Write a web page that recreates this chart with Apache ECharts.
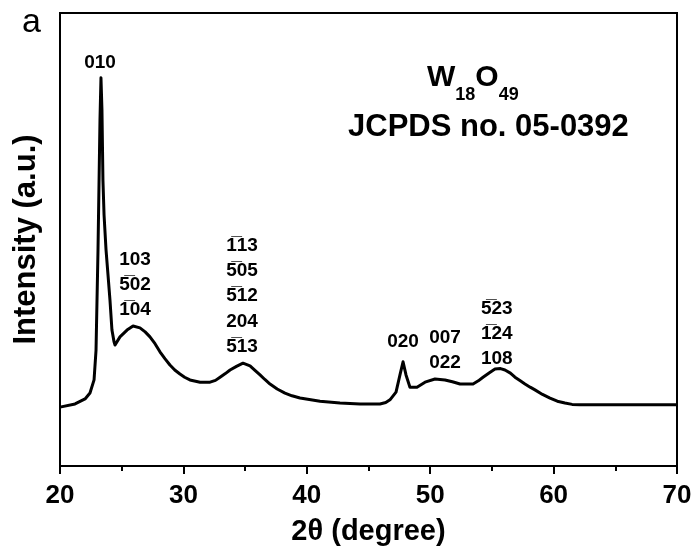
<!DOCTYPE html>
<html><head><meta charset="utf-8">
<script src="https://cdn.jsdelivr.net/npm/echarts@6/dist/echarts.min.js"></script>
<style>html,body{margin:0;padding:0;background:#fff}#c{width:697px;height:553px}</style>
</head><body><div id="c"></div>
<script>
const twoTheta = [20.00,21.22,22.03,22.43,22.76,22.92,23.08,23.24,23.32,23.40,23.48,23.57,23.73,23.89,24.05,24.21,24.38,24.46,24.86,25.43,25.92,26.48,26.90,27.29,27.70,28.10,28.50,28.91,29.30,29.72,30.10,30.53,31.35,32.16,32.60,32.97,33.40,33.78,34.30,34.83,35.40,35.80,36.21,36.60,37.02,37.60,38.23,38.80,39.45,41.07,42.69,44.31,45.93,46.40,46.74,47.23,47.55,47.80,48.04,48.36,48.93,49.58,50.39,51.20,51.80,52.42,53.47,53.90,54.28,54.80,55.25,55.70,56.06,56.50,56.87,57.30,57.68,58.10,58.49,59.10,59.71,60.30,60.92,61.50,62.14,65.38,70.00];
const intensity = [13.0,13.7,14.8,16.1,19.0,25.6,47.7,76.4,85.7,78.6,63.1,55.4,47.7,42.2,36.6,30.0,27.4,26.7,28.5,30.0,30.9,30.5,29.6,28.5,27.0,25.2,23.7,22.3,21.2,20.3,19.6,19.0,18.5,18.5,18.9,19.6,20.4,21.2,22.0,22.7,22.1,21.1,20.1,19.1,18.1,17.0,16.1,15.5,15.0,14.3,13.9,13.7,13.7,14.0,14.6,16.3,20.1,23.0,20.1,17.4,17.4,18.5,19.2,19.0,18.6,18.1,18.1,18.8,19.6,20.6,21.4,21.5,21.2,20.5,19.6,18.8,18.1,17.4,16.8,15.8,15.0,14.3,13.9,13.6,13.5,13.5,13.5];
const O = '\u0305';
const peakLabels = ['010','103','5'+O+'02','1'+O+'04','1'+O+'13','5'+O+'05','5'+O+'12','204','5'+O+'13','020','007','022','5'+O+'23','1'+O+'24','108'];
const labelX = [23.24,26.08,26.08,26.08,34.75,34.75,34.75,34.75,34.75,47.80,51.20,51.20,55.40,55.40,55.40];
const labelY = [89.0,45.5,40.0,34.5,48.6,43.0,37.5,31.8,26.3,27.4,28.3,22.7,34.7,29.1,23.6];
const xTicks = [20,30,40,50,60,70];

const chart = echarts.init(document.getElementById('c'));
const F = 'Arial, "Liberation Sans", sans-serif';
chart.setOption({
  animation:false,
  grid:{left:60,right:20,top:13,bottom:87,show:true,borderColor:'#000',borderWidth:2,containLabel:false},
  xAxis:{type:'value',min:xTicks[0],max:xTicks[xTicks.length-1],interval:10,
    axisLine:{lineStyle:{color:'#000',width:2}},
    axisTick:{show:true,length:8,lineStyle:{color:'#000',width:2}},
    minorTick:{show:true,splitNumber:2,length:5,lineStyle:{color:'#000',width:2}},
    splitLine:{show:false},
    axisLabel:{color:'#000',fontSize:26,fontWeight:'bold',fontFamily:F,margin:17},
    name:'2\u03b8 (degree)',nameLocation:'middle',nameGap:51,
    nameTextStyle:{color:'#000',fontSize:29,fontWeight:'bold',fontFamily:F}},
  yAxis:{type:'value',min:0,max:100,
    axisLine:{show:true,lineStyle:{color:'#000',width:2}},
    axisTick:{show:false},axisLabel:{show:false},splitLine:{show:false},
    name:'Intensity (a.u.)',nameLocation:'middle',nameGap:18,
    nameTextStyle:{color:'#000',fontSize:31,fontWeight:'bold',fontFamily:F}},
  series:[
    {type:'line',data:twoTheta.map((x,i)=>[x,intensity[i]]),showSymbol:false,smooth:false,
      lineStyle:{color:'#000',width:3,join:'round'}},
    {type:'scatter',data:labelX.map((x,i)=>[x,labelY[i],peakLabels[i]]),symbolSize:0,
      itemStyle:{opacity:1},
      label:{show:true,position:'inside',opacity:1,formatter:p=>p.data[2],color:'#000',fontSize:19,fontWeight:'bold',fontFamily:F}}
  ],
  graphic:[
    {type:'text',left:22,top:6,style:{text:'a',fontSize:34,fontFamily:F,fill:'#000'}},
    {type:'text',left:427,top:63,style:{text:'{b|W}{s|18}{b|O}{s|49}',
      rich:{b:{fontSize:30,fontWeight:'bold',fontFamily:F,fill:'#000',verticalAlign:'top'},
            s:{fontSize:18,fontWeight:'bold',fontFamily:F,fill:'#000',lineHeight:41,verticalAlign:'bottom'}}}},
    {type:'text',left:348,top:112,style:{text:'JCPDS no. 05-0392',fontSize:31,fontWeight:'bold',fontFamily:F,fill:'#000'}}
  ]
});
</script></body></html>
